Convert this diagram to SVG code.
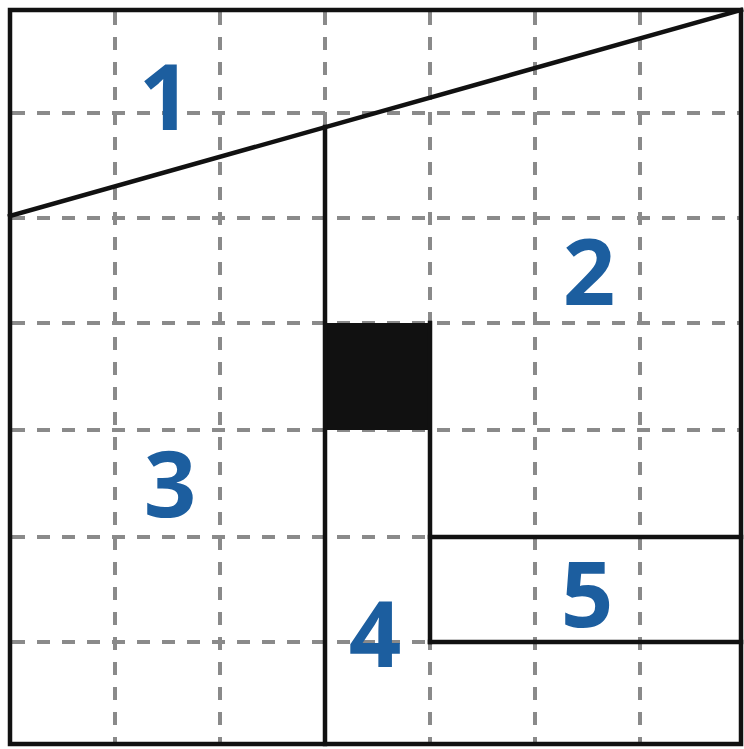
<svg xmlns="http://www.w3.org/2000/svg" width="744" height="749" viewBox="0 0 744 749">
<style>
.grid{stroke:#8a8a8a;stroke-width:4;stroke-dasharray:13 12;fill:none}
.solid{stroke:#111;stroke-width:4.5;fill:none;stroke-linecap:square}
.lbl{font-family:"Open Sans","Liberation Sans",sans-serif;font-weight:bold;font-size:92px;fill:#1c5e9f;text-anchor:middle}
</style>
<rect width="744" height="749" fill="#fff"/>
<g id="grid">
<line class="grid" x1="115" y1="12" x2="115" y2="742"/>
<line class="grid" x1="220" y1="12" x2="220" y2="742"/>
<line class="grid" x1="325" y1="12" x2="325" y2="742"/>
<line class="grid" x1="430" y1="12" x2="430" y2="742"/>
<line class="grid" x1="535" y1="12" x2="535" y2="742"/>
<line class="grid" x1="640" y1="12" x2="640" y2="742"/>
<line class="grid" x1="12" y1="113" x2="739" y2="113"/>
<line class="grid" x1="12" y1="218" x2="739" y2="218"/>
<line class="grid" x1="12" y1="323" x2="739" y2="323"/>
<line class="grid" x1="12" y1="430" x2="739" y2="430"/>
<line class="grid" x1="12" y1="537" x2="739" y2="537"/>
<line class="grid" x1="12" y1="642" x2="739" y2="642"/>
</g>
<g id="shapes">
<rect x="325" y="323" width="105" height="107" fill="#111"/>
<line class="solid" x1="10" y1="216" x2="741" y2="10"/>
<line class="solid" x1="325" y1="127" x2="325" y2="744"/>
<line class="solid" x1="430" y1="323" x2="430" y2="642"/>
<line class="solid" x1="430" y1="537" x2="741" y2="537"/>
<line class="solid" x1="430" y1="642" x2="741" y2="642"/>
<rect class="solid" x="10" y="10" width="731" height="734"/>
</g>
<g id="labels">
<text class="lbl" x="165" y="130">1</text>
<text class="lbl" x="589" y="305">2</text>
<text class="lbl" x="170" y="517">3</text>
<text class="lbl" x="375" y="667">4</text>
<text class="lbl" x="587" y="627">5</text>
</g>
</svg>
